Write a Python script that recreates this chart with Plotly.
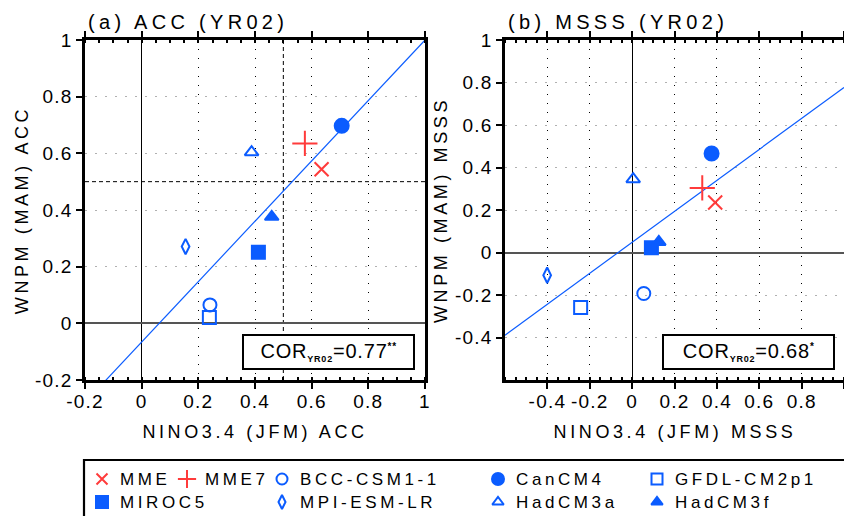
import json
import plotly.graph_objects as go

# ---------------- data ----------------
models = ["MME", "MME7", "BCC-CSM1-1", "CanCM4", "GFDL-CM2p1",
          "MIROC5", "MPI-ESM-LR", "HadCM3a", "HadCM3f"]
acc_nino = [0.635, 0.576, 0.241, 0.706, 0.239, 0.412, 0.155, 0.388, 0.459]
acc_wnpm = [0.544, 0.635, 0.065, 0.697, 0.021, 0.251, 0.271, 0.604, 0.376]
msss_nino = [0.392, 0.331, 0.055, 0.375, -0.243, 0.091, -0.401, 0.005, 0.126]
msss_wnpm = [0.235, 0.304, -0.193, 0.466, -0.259, 0.022, -0.107, 0.345, 0.050]
acc_fit = [1.066, -0.066]     # slope, intercept
msss_fit = [0.729, 0.048]
acc_cor = "0.77"
msss_cor = "0.68"
acc_sig = "**"
msss_sig = "*"
ticks_a = [-0.2, 0, 0.2, 0.4, 0.6, 0.8, 1]
ticks_b_x = [-0.4, -0.2, 0, 0.2, 0.4, 0.6, 0.8, 1]
ticks_b_y = [-0.4, -0.2, 0, 0.2, 0.4, 0.6, 0.8, 1]

# ---------------- styles ----------------
W, H = 844, 516
BLUE = "#0b5cff"
RED = "#ff3b3b"
FONT = "Liberation Sans"
style = {
    "MME": dict(symbol="x-thin-open", color=RED, size=14, lsize=11),
    "MME7": dict(symbol="cross-thin-open", color=RED, size=18, lsize=13),
    "BCC-CSM1-1": dict(symbol="circle-open", color=BLUE, size=13, lsize=11),
    "CanCM4": dict(symbol="circle", color=BLUE, size=14, lsize=12),
    "GFDL-CM2p1": dict(symbol="square-open", color=BLUE, size=13, lsize=11),
    "MIROC5": dict(symbol="square", color=BLUE, size=13, lsize=12),
    "MPI-ESM-LR": dict(symbol="diamond-tall-open", color=BLUE, size=11, lsize=10),
    "HadCM3a": dict(symbol="triangle-up-open", color=BLUE, size=12, lsize=10),
    "HadCM3f": dict(symbol="triangle-up", color=BLUE, size=12, lsize=10),
}


def px_x(x):
    return x / W


def px_y(y):
    return 1 - y / H


# panel geometry (pixels)
A_X = (85, 425)
B_X = (505, 844)
P_Y = (40, 380)

fig = go.Figure()

panels = [
    ("x", "y", acc_nino, acc_wnpm, acc_fit, (-0.2, 1.0)),
    ("x2", "y2", msss_nino, msss_wnpm, msss_fit, (-0.6, 1.0)),
]
for xa, ya, xs, ys, fit, xr in panels:
    m, b = fit
    lx = [xr[0], xr[1]]
    fig.add_trace(go.Scatter(x=lx, y=[m * v + b for v in lx], mode="lines",
                             line=dict(color=BLUE, width=1.2), xaxis=xa, yaxis=ya,
                             showlegend=False, hoverinfo="skip"))
    for name, xv, yv in zip(models, xs, ys):
        s = style[name]
        fig.add_trace(go.Scatter(
            x=[xv], y=[yv], mode="markers", name=name, xaxis=xa, yaxis=ya,
            showlegend=False, cliponaxis=False,
            marker=dict(symbol=s["symbol"], color=s["color"], size=s["size"],
                        line=dict(color=s["color"], width=2))))

# ---------------- custom legend (aux axes in pixel units) ----------------
leg_rows = [
    ["MME", "MME7", "BCC-CSM1-1", "CanCM4", "GFDL-CM2p1"],
    ["MIROC5", None, "MPI-ESM-LR", "HadCM3a", "HadCM3f"],
]
leg_cols = [102, 187, 282, 498, 657]
leg_row_y = [479, 502]
annotations = []
ann_ls = []
for r, row in enumerate(leg_rows):
    for c, name in enumerate(row):
        if name is None:
            continue
        s = style[name]
        fig.add_trace(go.Scatter(
            x=[leg_cols[c]], y=[leg_row_y[r]], mode="markers", xaxis="x3", yaxis="y3",
            showlegend=False, hoverinfo="skip", cliponaxis=False,
            marker=dict(symbol=s["symbol"], color=s["color"], size=s["lsize"],
                        line=dict(color=s["color"], width=2))))
        annotations.append(dict(x=px_x(leg_cols[c] + 16), y=px_y(leg_row_y[r]),
                                xref="paper", yref="paper", text=name, showarrow=False,
                                xanchor="left", yanchor="middle", align="left",
                                font=dict(size=17, color="black", family=FONT)))
        ann_ls.append(3.6)

# ---------------- axes ----------------
common = dict(showline=True, linecolor="black", linewidth=2.5, ticks="outside",
              ticklen=6, tickwidth=1.5, tickcolor="black", automargin=False,
              tickfont=dict(size=19, family=FONT, color="black"),
              showgrid=True, zeroline=True)
xgrid = dict(gridcolor="black", gridwidth=1, griddash="1px,8px",
             zerolinecolor="black", zerolinewidth=1, ticklabelstandoff=-4)
ygrid = dict(gridcolor="#b0b0b0", gridwidth=1, griddash="2px,8px",
             zerolinecolor="#555555", zerolinewidth=1.6)
minor = dict(ticks="inside", dtick=0.05, ticklen=3, tickcolor="black", showgrid=False)

fig.update_layout(
    xaxis=dict(domain=[px_x(A_X[0]), px_x(A_X[1])], range=[-0.2, 1.0], anchor="y",
               tickvals=ticks_a, ticktext=[f"{v:g}" for v in ticks_a], mirror="ticks",
               minor=minor, **common, **xgrid),
    yaxis=dict(domain=[px_y(P_Y[1]), px_y(P_Y[0])], range=[-0.2, 1.0], anchor="x",
               tickvals=ticks_a, ticktext=[f"{v:g}" for v in ticks_a], mirror=True,
               **common, **ygrid),
    xaxis2=dict(domain=[px_x(B_X[0]), 1.0], range=[-0.6, 1.0], anchor="y2",
                tickvals=ticks_b_x, ticktext=[f"{v:g}" for v in ticks_b_x], mirror="ticks",
                minor=minor, **common, **xgrid),
    yaxis2=dict(domain=[px_y(P_Y[1]), px_y(P_Y[0])], range=[-0.6, 1.0], anchor="x2",
                tickvals=ticks_b_y, ticktext=[f"{v:g}" for v in ticks_b_y], mirror=False,
                **common, **ygrid),
    xaxis3=dict(domain=[0, 1], range=[0, W], visible=False, anchor="y3",
                fixedrange=True, automargin=False),
    yaxis3=dict(domain=[0, 1], range=[H, 0], visible=False, anchor="x3",
                fixedrange=True, automargin=False),
    width=W, height=H, margin=dict(l=0, r=0, t=0, b=0, pad=0, autoexpand=False),
    paper_bgcolor="white", plot_bgcolor="rgba(0,0,0,0)", showlegend=False,
    font=dict(family=FONT, color="black"),
)

# reference dashed lines at 0.5 (panel a)
fig.add_shape(type="line", xref="x", yref="paper", x0=0.5, x1=0.5,
              y0=px_y(P_Y[1]), y1=px_y(P_Y[0]), line=dict(color="black", width=1, dash="4px,3px"),
              layer="below")
fig.add_shape(type="line", xref="paper", yref="y", y0=0.5, y1=0.5,
              x0=px_x(A_X[0]), x1=px_x(A_X[1]), line=dict(color="black", width=1, dash="4px,3px"),
              layer="below")

# COR boxes
for x0, cor, sig in [(243, acc_cor, acc_sig), (663, msss_cor, msss_sig)]:
    fig.add_shape(type="rect", xref="paper", yref="paper",
                  x0=px_x(x0), x1=px_x(x0 + 171), y0=px_y(369), y1=px_y(335),
                  line=dict(color="black", width=2), fillcolor="white", layer="above")
    annotations.append(dict(
        x=px_x(x0 + 85.5), y=px_y(352), xref="paper", yref="paper", showarrow=False,
        xanchor="center", yanchor="middle",
        text=(f"COR<sub><b><span style='font-size:9px'>YR02</span></b></sub>"
              f"={cor}<sup><b><span style='font-size:10px'>{sig}</span></b></sup>"),
        font=dict(size=20, family=FONT, color="black")))
    ann_ls.append(0.8)

# legend box
fig.add_shape(type="rect", xref="paper", yref="paper", x0=px_x(84), x1=1.05,
              y0=-0.1, y1=px_y(460), line=dict(color="black", width=2.2))

# titles and axis titles
texts = [
    ("(a) ACC (YR02)", 86, 22, "left", 0, 20, 4.3),
    ("(b) MSSS (YR02)", 506, 22, "left", 0, 20, 4.3),
    ("NINO3.4 (JFM) ACC", 255, 432, "center", 0, 18, 3.6),
    ("NINO3.4 (JFM) MSSS", 675, 432, "center", 0, 18, 3.6),
    ("WNPM (MAM) ACC", 22, 210, "center", -90, 18, 3.6),
    ("WNPM (MAM) MSSS", 441, 210, "center", -90, 18, 3.6),
]
for t, x, y, anc, ang, fs, ls in texts:
    annotations.append(dict(x=px_x(x), y=px_y(y), xref="paper", yref="paper", text=t,
                            showarrow=False, xanchor=anc, yanchor="middle", align=anc,
                            textangle=ang, font=dict(size=fs, family=FONT, color="black")))
    ann_ls.append(ls)

fig.update_layout(annotations=annotations)

post = """
document.body.style.margin = '0';
document.body.style.overflow = 'hidden';
var gd = document.getElementById('{plot_id}');
var L = %s;
function applyLS(){
  gd.querySelectorAll('g.annotation').forEach(function(g){
    var i = +g.getAttribute('data-index');
    var t = g.querySelector('text');
    if (t && L[i]) { t.style.letterSpacing = L[i] + 'px'; }
  });
  gd.querySelectorAll('g.xtick text, g.x2tick text, g.ytick text, g.y2tick text').forEach(function(t){
    t.style.letterSpacing = '1.2px';
  });
}
applyLS();
if (gd.on) { gd.on('plotly_afterplot', applyLS); }
""" % json.dumps(ann_ls)

fig.write_html("out.html", post_script=post, config={"displayModeBar": False})
